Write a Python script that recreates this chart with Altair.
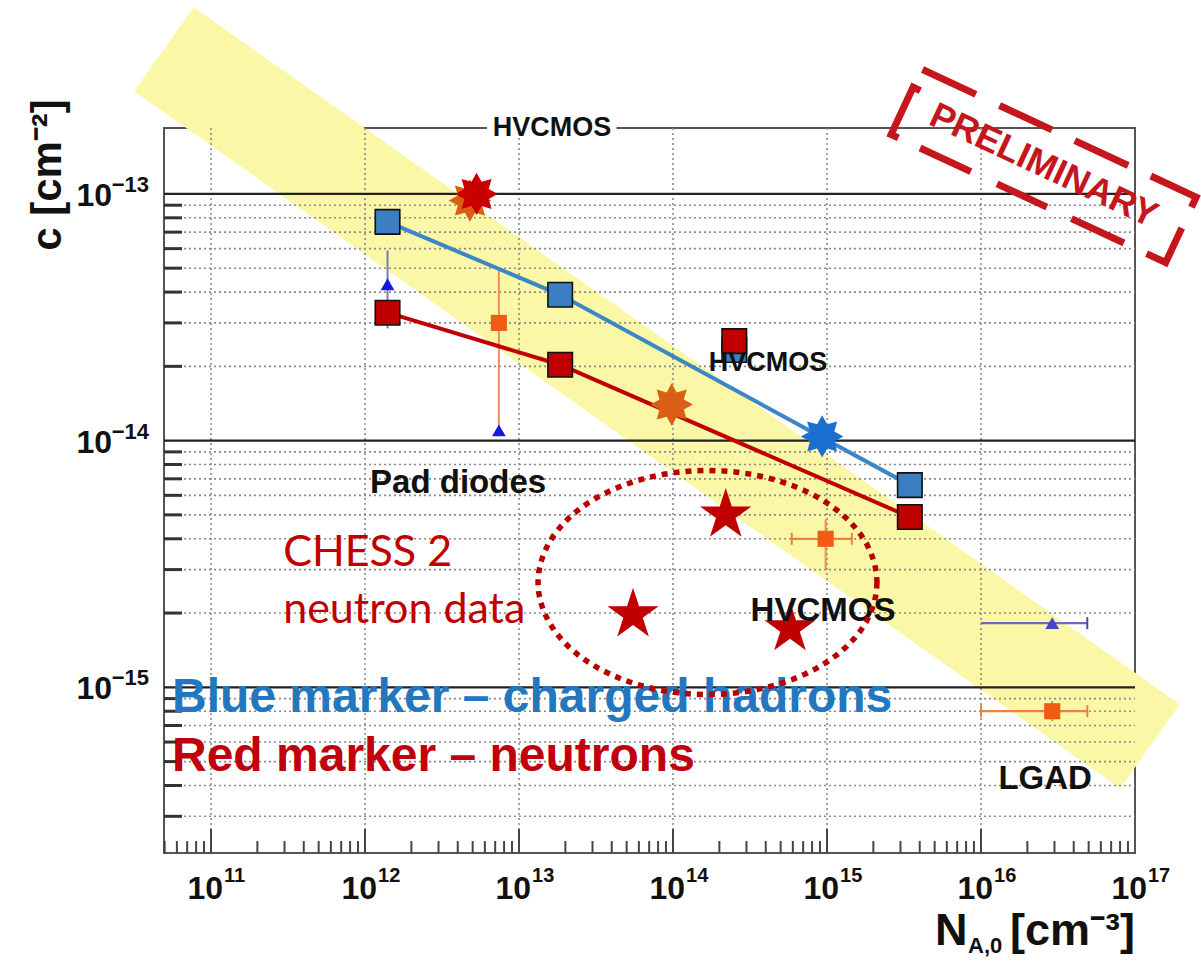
import math
import altair as alt
import pandas as pd

# ---------------- data ----------------
# Pad diodes: fitted points (blue = charged hadrons, red = neutrons)
pad_x = [1.4e12, 1.85e13, 3.45e15]
pad_blue_y = [7.7e-14, 3.9e-14, 6.6e-15]
pad_red_y = [3.3e-14, 2.03e-14, 4.9e-15]

# HVCMOS squares (blue one partly hidden behind the red one)
hv_sq_x = [2.5e14]
hv_sq_blue_y = [2.33e-14]
hv_sq_red_y = [2.53e-14]

# HVCMOS 8-point stars
star8_x = [4.8e12, 5.3e12, 9.8e13, 9.3e14]
star8_y = [9.4e-14, 1.0e-13, 1.4e-14, 1.04e-14]
star8_kind = ["orange", "red", "orange", "blue"]

# CHESS 2 neutron data (5-point stars)
chess_x = [5.5e13, 2.2e14, 5.75e14]
chess_y = [1.97e-15, 5.0e-15, 1.73e-15]

# small squares with error bars
sq_x = [7.4e12, 9.8e14, 2.9e16]
sq_y = [3.0e-14, 4.0e-15, 8.0e-16]
sq_xlo = [7.4e12, 5.9e14, 1.0e16]
sq_xhi = [7.4e12, 1.45e15, 4.9e16]
sq_ylo = [1.08e-14, 3.0e-15, 7.3e-16]
sq_yhi = [4.9e-14, 4.8e-15, 8.8e-16]

# small triangles with error bars
tri_x = [1.4e12, 7.4e12, 2.9e16]
tri_y = [4.3e-14, 1.1e-14, 1.82e-15]
tri_xlo = [1.4e12, 7.4e12, 1.0e16]
tri_xhi = [1.4e12, 7.4e12, 4.9e16]
tri_ylo = [2.85e-14, 1.1e-14, 1.82e-15]
tri_yhi = [5.9e-14, 1.1e-14, 1.82e-15]
tri_kind = ["blue", "blue", "purple"]

# yellow guide band (centre line end points)
band_x = [4.95e10, 1.25e17]
band_y = [3.86e-13, 5.77e-16]

# text annotations
small_lbl_text = ["HVCMOS", "HVCMOS"]
small_lbl_x = [1.64e13, 4.14e14]
small_lbl_y = [1.85e-13, 2.07e-14]
big_lbl_text = ["Pad diodes", "HVCMOS", "LGAD"]
big_lbl_x = [4.02e12, 9.42e14, 2.61e16]
big_lbl_y = [6.76e-15, 2.03e-15, 4.25e-16]
gap_x = [6.2e12]
gap_x2 = [4.3e13]

chess_text = ["CHESS 2", "neutron data"]
chess_text_x = [2.94e11, 2.94e11]
chess_text_y = [3.09e-15, 1.83e-15]

legend_text = ["Blue marker \u2013 charged hadrons", "Red marker \u2013 neutrons"]
legend_kind = ["blue", "red"]
legend_x = [5.58e10, 5.58e10]
legend_y = [7.92e-16, 4.57e-16]

ellipse_x = [1.675e14]
ellipse_y = [2.66e-15]
stamp_x = [2.55e16]
stamp_y = [1.30e-13]

x_label_exps = [11, 12, 13, 14, 15, 16, 17]
y_label_exps = [-13, -14, -15]
y_title = "c [cm\u207b\u00b2]"
x_title_main, x_title_sub, x_title_unit = "N", "A,0", "[cm\u207b\u00b3]"

# ---------------- layout ----------------
W, H = 971, 725
PAD = {"left": 164, "top": 128, "right": 66, "bottom": 110}
X_DOMAIN = [4.95e10, 1e17]
Y_DOMAIN = [2.13e-16, 1.85e-13]
FONT = "Liberation Sans"

xs = alt.Scale(type="log", domain=X_DOMAIN, nice=False)
ys = alt.Scale(type="log", domain=Y_DOMAIN, nice=False)


def X(f="x"):
    return alt.X(f"{f}:Q", scale=xs, axis=None)


def Y(f="y"):
    return alt.Y(f"{f}:Q", scale=ys, axis=None)


def exp_text(e):
    return str(e).replace("-", "\u2212")


def star_path(n, r_in, start=-90.0):
    pts = []
    for k in range(2 * n):
        r = 1.0 if k % 2 == 0 else r_in
        a = math.radians(start + k * 180.0 / n)
        pts.append((r * math.cos(a), r * math.sin(a)))
    return "M" + "L".join(f"{px:.3f},{py:.3f}" for px, py in pts) + "Z"


STAR5 = star_path(5, 0.382)
STAR8 = star_path(8, 0.62)

ell = []
for k in range(73):
    t = math.radians(k * 5)
    ell.append((math.cos(t), 0.661 * math.sin(t)))
ELLIPSE = "M" + "L".join(f"{px:.4f},{py:.4f}" for px, py in ell) + "Z"


def seg(a, b, v):
    return f"M{a},{v}L{b},{v}"


tv, bv = -0.238, 0.238
STAMP = (
    seg(-0.993, -0.604, tv) + seg(-0.432, -0.05, tv) + seg(0.116, 0.505, tv)
    + f"M0.67,{tv}L1,{tv}L1,-0.165"
    + seg(-0.789, -0.419, bv) + seg(-0.228, 0.135, bv) + seg(0.314, 0.696, bv)
    + f"M0.861,{bv}L1,{bv}L1,-0.013"
    + f"M-0.947,-0.106L-1,-0.106L-1,{bv}L-0.947,{bv}"
)

x_decades = [10.0 ** e for e in range(11, 17)]
x_minor = [m * 10.0 ** d for d in range(10, 17) for m in range(2, 10)
           if X_DOMAIN[0] <= m * 10.0 ** d <= X_DOMAIN[1]]
y_decades = [1e-13, 1e-14, 1e-15]
y_minor = [m * 10.0 ** d for d in range(-16, -13) for m in range(2, 10)
           if Y_DOMAIN[0] <= m * 10.0 ** d <= Y_DOMAIN[1]]

GRID = dict(color="#8a8a8a", strokeWidth=1.6, strokeDash=[2, 3])

layers = []
layers.append(alt.Chart(pd.DataFrame({"x": band_x, "y": band_y}))
              .mark_line(color="#FAF7A6", strokeWidth=103, strokeCap="butt")
              .encode(x=X(), y=Y()))
layers.append(alt.Chart(pd.DataFrame({"y": y_minor})).mark_rule(**GRID)
              .encode(y=Y(), x=alt.value(0), x2=alt.value(W)))
layers.append(alt.Chart(pd.DataFrame({"x": x_decades})).mark_rule(**GRID)
              .encode(x=X(), y=alt.value(0), y2=alt.value(H)))
layers.append(alt.Chart(pd.DataFrame({"y": y_decades})).mark_rule(color="#222", strokeWidth=2.2)
              .encode(y=Y(), x=alt.value(0), x2=alt.value(W)))
layers.append(alt.Chart(pd.DataFrame({"x": x_minor})).mark_rule(color="#444", strokeWidth=2)
              .encode(x=X(), y=alt.value(H), y2=alt.value(H - 12)))
layers.append(alt.Chart(pd.DataFrame({"x": x_decades})).mark_rule(color="#444", strokeWidth=2)
              .encode(x=X(), y=alt.value(H), y2=alt.value(H - 24)))
layers.append(alt.Chart(pd.DataFrame({"y": y_minor})).mark_rule(color="#333", strokeWidth=3)
              .encode(y=Y(), x=alt.value(0), x2=alt.value(18)))
layers.append(alt.Chart(pd.DataFrame({"x": gap_x, "x2": gap_x2})).mark_rule(color="white", strokeWidth=8)
              .encode(x=X(), x2=alt.X2("x2:Q"), y=alt.value(0)))

# tick labels ("10" with a raised exponent) and axis titles
BOLD = dict(font=FONT, fontWeight="bold", color="#111", baseline="alphabetic")
xl = pd.DataFrame({"x": [10.0 ** e for e in x_label_exps], "b": ["10"] * len(x_label_exps),
                   "e": [exp_text(e) for e in x_label_exps]})
layers.append(alt.Chart(xl).mark_text(fontSize=32, align="right", dx=12, **BOLD)
              .encode(x=X(), y=alt.value(H + 46), text="b:N"))
layers.append(alt.Chart(xl).mark_text(fontSize=20, align="left", dx=13, **BOLD)
              .encode(x=X(), y=alt.value(H + 29), text="e:N"))
yl = pd.DataFrame({"y": [10.0 ** e for e in y_label_exps], "b": ["10"] * len(y_label_exps),
                   "e": [exp_text(e) for e in y_label_exps]})
layers.append(alt.Chart(yl).mark_text(fontSize=32, align="right", dy=12, **BOLD)
              .encode(y=Y(), x=alt.value(-52), text="b:N"))
layers.append(alt.Chart(yl).mark_text(fontSize=22, align="right", dy=-2, **BOLD)
              .encode(y=Y(), x=alt.value(-15), text="e:N"))
layers.append(alt.Chart(pd.DataFrame({"t": [y_title]}))
              .mark_text(font=FONT, fontWeight="bold", fontSize=42, color="#111", angle=270,
                         align="center", baseline="middle")
              .encode(x=alt.value(-116), y=alt.value(47), text="t:N"))
XT = dict(font=FONT, fontWeight="bold", color="#111", align="left", baseline="alphabetic")
layers.append(alt.Chart(pd.DataFrame({"t": [x_title_main]})).mark_text(fontSize=45, **XT)
              .encode(x=alt.value(771), y=alt.value(817), text="t:N"))
layers.append(alt.Chart(pd.DataFrame({"t": [x_title_sub]})).mark_text(fontSize=22, **XT)
              .encode(x=alt.value(804), y=alt.value(825), text="t:N"))
layers.append(alt.Chart(pd.DataFrame({"t": [x_title_unit]})).mark_text(fontSize=45, **XT)
              .encode(x=alt.value(846), y=alt.value(817), text="t:N"))

# error bars
sq_df = pd.DataFrame({"x": sq_x, "y": sq_y, "xlo": sq_xlo, "xhi": sq_xhi, "ylo": sq_ylo, "yhi": sq_yhi})
tri_df = pd.DataFrame({"x": tri_x, "y": tri_y, "xlo": tri_xlo, "xhi": tri_xhi, "ylo": tri_ylo,
                       "yhi": tri_yhi, "kind": tri_kind})
tri_blue = tri_df[tri_df.kind == "blue"]
tri_purple = tri_df[tri_df.kind == "purple"]
layers.append(alt.Chart(tri_blue).mark_rule(strokeWidth=2, color="#7b7bb0")
              .encode(x=X(), y=Y("ylo"), y2=alt.Y2("yhi")))
layers.append(alt.Chart(tri_purple).mark_rule(strokeWidth=2.2, color="#6a6ac0")
              .encode(x=X("xlo"), x2=alt.X2("xhi"), y=Y()))
layers.append(alt.Chart(sq_df).mark_rule(strokeWidth=2, color="#F08A62")
              .encode(x=X(), y=Y("ylo"), y2=alt.Y2("yhi")))
layers.append(alt.Chart(sq_df).mark_rule(strokeWidth=2.2, color="#F08040")
              .encode(x=X("xlo"), x2=alt.X2("xhi"), y=Y()))
layers.append(alt.Chart(sq_df).transform_filter("datum.xlo < datum.x")
              .transform_fold(["xlo", "xhi"], as_=["end", "xe"])
              .mark_tick(orient="vertical", size=12, thickness=2, color="#F08040", opacity=1)
              .encode(x=X("xe"), y=Y()))
layers.append(alt.Chart(tri_purple).mark_tick(orient="vertical", size=12, thickness=2,
                                              color="#4646C0", opacity=1)
              .encode(x=X("xhi"), y=Y()))

# fit lines
pad_df = pd.DataFrame({"x": pad_x, "yb": pad_blue_y, "yr": pad_red_y})
layers.append(alt.Chart(pad_df).mark_line(color="#3B86C6", strokeWidth=4).encode(x=X(), y=Y("yb")))
layers.append(alt.Chart(pad_df).mark_line(color="#C00000", strokeWidth=4).encode(x=X(), y=Y("yr")))

# big squares
SQ = dict(shape="square", filled=True, size=600, stroke="#111", strokeWidth=1.6, opacity=1)
hv_df = pd.DataFrame({"x": hv_sq_x, "yb": hv_sq_blue_y, "yr": hv_sq_red_y})
layers.append(alt.Chart(hv_df).mark_point(color="#3B7EC2", **SQ).encode(x=X(), y=Y("yb")))
layers.append(alt.Chart(hv_df).mark_point(color="#C00000", **SQ).encode(x=X(), y=Y("yr")))
layers.append(alt.Chart(pad_df).mark_point(color="#3B7EC2", **SQ).encode(x=X(), y=Y("yb")))
layers.append(alt.Chart(pad_df).mark_point(color="#C00000", **SQ).encode(x=X(), y=Y("yr")))

# 8-point stars
s8 = pd.DataFrame({"x": star8_x, "y": star8_y, "kind": star8_kind})
STAR8_COL = {"orange": "#DA5E14", "red": "#C80000", "blue": "#1C6FD0"}
for kind in ["orange", "red", "blue"]:
    layers.append(alt.Chart(s8[s8.kind == kind])
                  .mark_point(shape=STAR8, filled=True, size=1800, opacity=1, color=STAR8_COL[kind])
                  .encode(x=X(), y=Y()))

# CHESS 2 stars
layers.append(alt.Chart(pd.DataFrame({"x": chess_x, "y": chess_y}))
              .mark_point(shape=STAR5, filled=True, size=2900, color="#C00000", opacity=1)
              .encode(x=X(), y=Y()))

# small markers
layers.append(alt.Chart(tri_blue).mark_point(shape="triangle-up", filled=True, size=190, opacity=1,
                                             color="#1818E0")
              .encode(x=X(), y=Y()))
layers.append(alt.Chart(tri_purple).mark_point(shape="triangle-up", filled=True, size=190, opacity=1,
                                               color="#4646C0")
              .encode(x=X(), y=Y()))
layers.append(alt.Chart(sq_df).mark_point(shape="square", filled=True, size=260, color="#F25C12", opacity=1)
              .encode(x=X(), y=Y()))

# text annotations
layers.append(alt.Chart(pd.DataFrame({"x": small_lbl_x, "y": small_lbl_y, "t": small_lbl_text}))
              .mark_text(font=FONT, fontWeight="bold", fontSize=27, color="#111")
              .encode(x=X(), y=Y(), text="t:N"))
layers.append(alt.Chart(pd.DataFrame({"x": big_lbl_x, "y": big_lbl_y, "t": big_lbl_text}))
              .mark_text(font=FONT, fontWeight="bold", fontSize=33, color="#111")
              .encode(x=X(), y=Y(), text="t:N"))
layers.append(alt.Chart(pd.DataFrame({"x": chess_text_x, "y": chess_text_y, "t": chess_text}))
              .mark_text(font="Lato", fontSize=43, color="#C00000", align="left", baseline="alphabetic")
              .encode(x=X(), y=Y(), text="t:N"))
leg = pd.DataFrame({"x": legend_x, "y": legend_y, "t": legend_text, "kind": legend_kind})
LEG_COL = {"blue": "#2377BE", "red": "#C0000C"}
for kind in ["blue", "red"]:
    layers.append(alt.Chart(leg[leg.kind == kind])
                  .mark_text(font=FONT, fontWeight="bold", fontSize=48, align="left", baseline="alphabetic",
                             color=LEG_COL[kind])
                  .encode(x=X(), y=Y(), text="t:N"))

# dotted ellipse around CHESS 2 data
layers.append(alt.Chart(pd.DataFrame({"x": ellipse_x, "y": ellipse_y}))
              .mark_point(shape=ELLIPSE, filled=False, size=339 ** 2, stroke="#B80000", strokeWidth=5.5,
                          strokeDash=[6, 6], opacity=1)
              .encode(x=X(), y=Y()))

# PRELIMINARY stamp
stamp_df = pd.DataFrame({"x": stamp_x, "y": stamp_y, "t": ["PRELIMINARY"]})
layers.append(alt.Chart(stamp_df)
              .mark_point(shape=STAMP, filled=False, size=303 ** 2, stroke="#C4161C", strokeWidth=7,
                          angle=25, opacity=1)
              .encode(x=X(), y=Y()))
layers.append(alt.Chart(stamp_df)
              .mark_text(font=FONT, fontWeight="bold", fontSize=36, color="#C4161C", angle=25)
              .encode(x=X(), y=Y(), text="t:N"))

chart = (alt.layer(*layers)
         .properties(width=W, height=H, padding=PAD, autosize=alt.AutoSizeParams(type="none"),
                     background="white")
         .configure_view(stroke="#555", strokeWidth=2))

chart.save("out.html", embed_options={"renderer": "svg", "actions": False})
